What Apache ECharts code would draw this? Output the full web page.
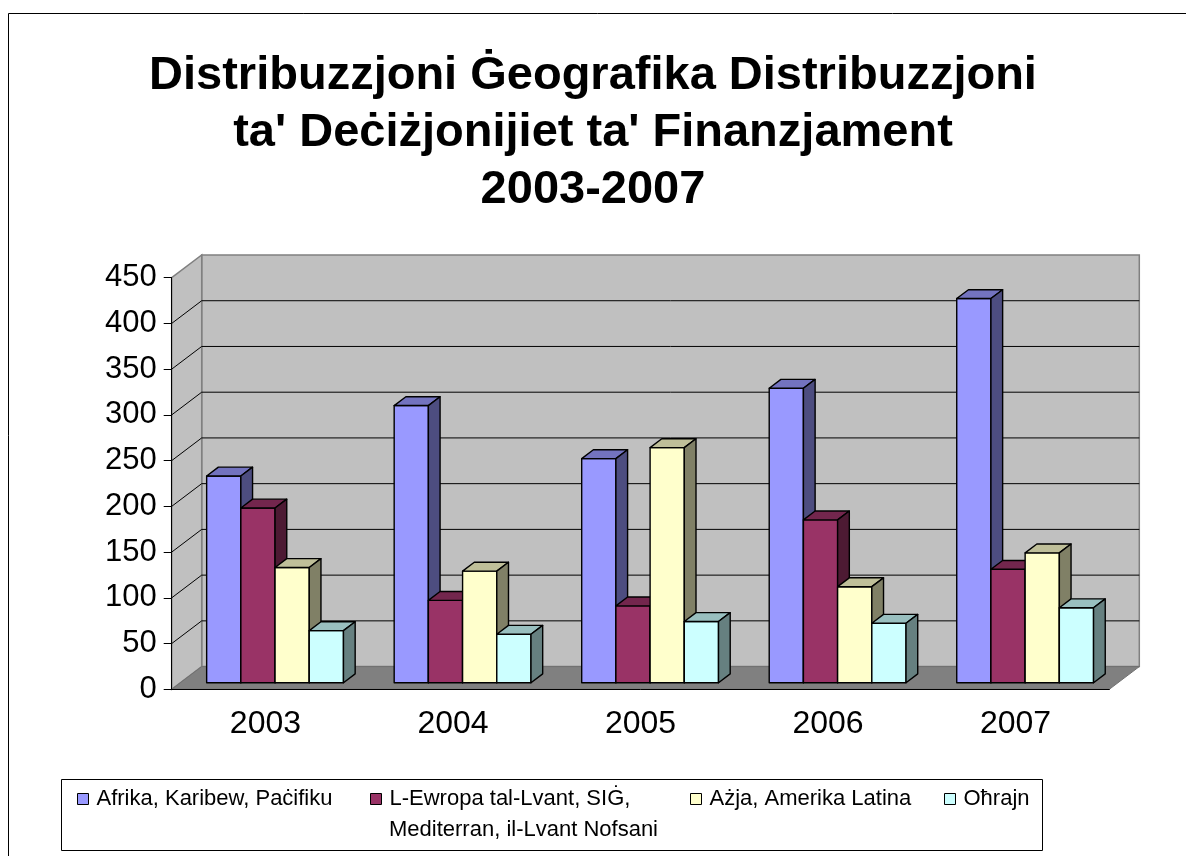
<!DOCTYPE html>
<html>
<head>
<meta charset="utf-8">
<script src="https://cdn.jsdelivr.net/npm/echarts@6/dist/echarts.min.js"></script>
<style>
html, body { margin: 0; padding: 0; background: #fff; }
#main { width: 1186px; height: 856px; }
</style>
</head>
<body>
<div id="main"></div>
<script>
// data
var years = ['2003', '2004', '2005', '2006', '2007'];
var afrika = [226, 303, 245, 322, 420];
var ewropa = [191, 90, 84, 178, 124];
var azja = [126, 122, 257, 105, 142];
var ohrajn = [57, 53, 67, 65, 82];
var yTicks = [0, 50, 100, 150, 200, 250, 300, 350, 400, 450];
var legendLines = [
    ['Afrika, Karibew, Paċifiku'],
    ['L-Ewropa tal-Lvant, SIĠ,', 'Mediterran, il-Lvant Nofsani'],
    ['Ażja, Amerika Latina'],
    ['Oħrajn']
];
var names = legendLines.map(function (l) { return l.join(' '); });
var values = [afrika, ewropa, azja, ohrajn];
var colors = ['#9999FF', '#993366', '#FFFFCC', '#CCFFFF'];

var FONT = '"Liberation Sans", Arial, sans-serif';
// 3d depth vector of the floor (front edge -> back wall)
var DX = 30, DY = -22.7;
var D0 = 0.29, DD = 0.39;        // bar front depth, bar thickness (fraction of depth)
var BAR_W = 0.1824, GROUP_PAD = 0.140;
var legendX = [77, 370, 690, 944];

function shade(hex, k) {
    var n = parseInt(hex.slice(1), 16);
    var r = Math.round(((n >> 16) & 255) * k);
    var g = Math.round(((n >> 8) & 255) * k);
    var b = Math.round((n & 255) * k);
    return 'rgb(' + r + ',' + g + ',' + b + ')';
}

// back wall, side wall, floor and the grid lines on them
function renderWalls(params, api) {
    var cs = params.coordSys;
    var x0 = cs.x, x1 = cs.x + cs.width;
    var y0 = api.coord([0, 0])[1];
    var yTop = api.coord([0, yTicks[yTicks.length - 1]])[1];
    var wall = { fill: '#C0C0C0', stroke: '#808080', lineWidth: 1.5 };
    var kids = [];
    kids.push({ type: 'polygon', shape: { points: [[x0 + DX, yTop + DY], [x1 + DX, yTop + DY], [x1 + DX, y0 + DY], [x0 + DX, y0 + DY]] }, style: wall });
    kids.push({ type: 'polygon', shape: { points: [[x0, yTop], [x0 + DX, yTop + DY], [x0 + DX, y0 + DY], [x0, y0]] }, style: wall });
    kids.push({ type: 'polygon', shape: { points: [[x0, y0], [x1, y0], [x1 + DX, y0 + DY], [x0 + DX, y0 + DY]] }, style: { fill: '#808080', stroke: '#707070', lineWidth: 1 } });
    for (var i = 1; i < yTicks.length - 1; i++) {
        var y = api.coord([0, yTicks[i]])[1];
        kids.push({ type: 'line', shape: { x1: x0 + DX, y1: y + DY, x2: x1 + DX, y2: y + DY }, style: { stroke: '#000', lineWidth: 1 } });
        kids.push({ type: 'line', shape: { x1: x0, y1: y, x2: x0 + DX, y2: y + DY }, style: { stroke: '#000', lineWidth: 1 } });
    }
    return { type: 'group', children: kids };
}

function renderBar(si) {
    return function (params, api) {
        var cat = api.value(0), val = api.value(1);
        var band = api.size([1, 0])[0];
        var w = band * BAR_W;
        var c0 = api.coord([cat, 0]);
        var c1 = api.coord([cat, val]);
        var xl = c0[0] - band / 2 + band * GROUP_PAD + si * w + DX * D0;
        var xr = xl + w;
        var yb = c0[1] + DY * D0;
        var yt = c1[1] + DY * D0;
        var ox = DX * DD, oy = DY * DD;
        var col = colors[si];
        function st(fill) { return { fill: fill, stroke: '#000', lineWidth: 1.4, lineJoin: 'round' }; }
        return {
            type: 'group',
            children: [
                { type: 'polygon', shape: { points: [[xl, yb], [xr, yb], [xr, yt], [xl, yt]] }, style: st(col) },
                { type: 'polygon', shape: { points: [[xl, yt], [xr, yt], [xr + ox, yt + oy], [xl + ox, yt + oy]] }, style: st(shade(col, 0.75)) },
                { type: 'polygon', shape: { points: [[xr, yb], [xr + ox, yb + oy], [xr + ox, yt + oy], [xr, yt]] }, style: st(shade(col, 0.5)) }
            ]
        };
    };
}

var myChart = echarts.init(document.getElementById('main'));

var series = [{
    type: 'custom',
    name: 'walls',
    silent: true,
    clip: false,
    renderItem: renderWalls,
    data: [[0, 0]],
    z: 1
}];
values.forEach(function (arr, si) {
    series.push({
        type: 'custom',
        name: names[si],
        clip: false,
        renderItem: renderBar(si),
        itemStyle: { color: colors[si], borderColor: '#000', borderWidth: 1 },
        encode: { x: 0, y: 1 },
        data: arr.map(function (v, i) { return [i, v]; }),
        z: 2
    });
});

var option = {
    animation: false,
    backgroundColor: '#fff',
    title: {
        text: 'Distribuzzjoni Ġeografika Distribuzzjoni\nta\' Deċiżjonijiet ta\' Finanzjament\n2003-2007',
        left: 'center',
        top: 48,
        padding: 0,
        textStyle: { fontFamily: FONT, fontSize: 47, fontWeight: 'bold', lineHeight: 57, color: '#000' }
    },
    legend: names.map(function (n, i) {
        return {
            data: [n],
            left: legendX[i],
            top: 788,
            padding: 0,
            icon: 'rect',
            itemWidth: 11,
            itemHeight: 11,
            itemStyle: { borderColor: '#000', borderWidth: 1 },
            formatter: function (name) { return legendLines[names.indexOf(name)][0]; },
            textStyle: { fontFamily: FONT, fontSize: 22, color: '#000', padding: [0, 0, 0, 3] },
            selectedMode: false
        };
    }),
    grid: { left: 171.7, right: 76.7, top: 277.7, bottom: 166.7, outerBoundsMode: 'none' },
    xAxis: {
        type: 'category',
        data: years,
        z: 5,
        axisLine: { lineStyle: { color: '#000', width: 1 } },
        axisTick: { length: 7, lineStyle: { color: '#000' } },
        axisLabel: { fontFamily: FONT, fontSize: 32, color: '#000', margin: 19 },
        splitLine: { show: false }
    },
    yAxis: {
        type: 'value',
        min: 0,
        max: 450,
        interval: 50,
        z: 5,
        axisLine: { show: true, lineStyle: { color: '#000', width: 1 } },
        axisTick: { show: true, length: 8, lineStyle: { color: '#000' } },
        axisLabel: { fontFamily: FONT, fontSize: 31, color: '#000', margin: 15 },
        splitLine: { show: false }
    },
    graphic: [
        { type: 'rect', shape: { x: 8.5, y: 13.5, width: 1300, height: 1000 }, style: { fill: 'none', stroke: '#000', lineWidth: 1 }, silent: true },
        { type: 'rect', shape: { x: 61.5, y: 779.5, width: 981, height: 71 }, style: { fill: 'none', stroke: '#000', lineWidth: 1 }, silent: true },
        { type: 'text', x: legendX[1] + 11 + 5 + 3, y: 819, style: { text: legendLines[1][1], font: '22px ' + FONT, fill: '#000' }, silent: true }
    ],
    series: series
};

myChart.setOption(option);
window.onresize = myChart.resize;
</script>
</body>
</html>
